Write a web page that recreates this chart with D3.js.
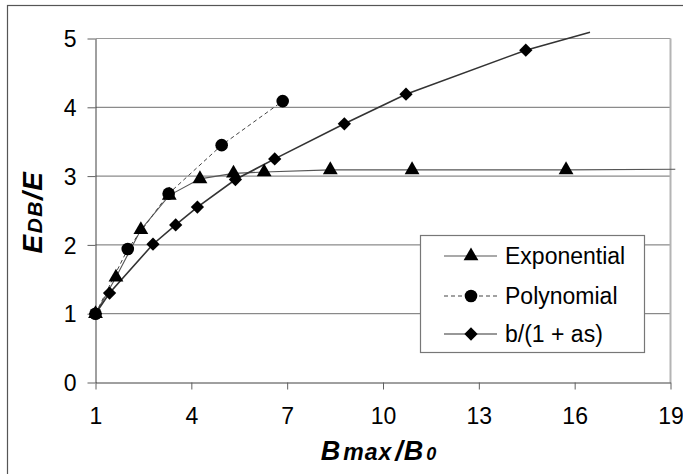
<!DOCTYPE html>
<html>
<head>
<meta charset="utf-8">
<script src="https://cdn.jsdelivr.net/npm/d3@7"></script>
<style>
  html, body { margin: 0; padding: 0; background: #fff; }
  svg { display: block; font-family: "Liberation Sans", Arial, sans-serif; }
</style>
</head>
<body>
<svg id="chart" width="683" height="474"></svg>
<script>
// Ratio of maximum to initial value (x) against normalised energy (y)
const expX   = [1, 1.64, 2.42, 3.31, 4.27, 5.32, 6.28, 8.35, 10.91, 15.73];
const expY   = [1, 1.53, 2.22, 2.72, 2.96, 3.04, 3.06, 3.09, 3.09, 3.09];
const polyX  = [1, 2.01, 3.29, 4.95, 6.86];
const polyY  = [1, 1.94, 2.745, 3.45, 4.09];
const ratX   = [1, 1.44, 2.80, 3.51, 4.19, 5.38, 6.61, 8.79, 10.72, 14.47];
const ratY   = [1, 1.30, 2.01, 2.29, 2.55, 2.95, 3.25, 3.76, 4.19, 4.83];
// fitted curves run on past the last marker
const expEnd = [19.15, 3.10];
const ratEnd = [16.48, 5.09];

const xTicks = [1, 4, 7, 10, 13, 16, 19];
const yTicks = [0, 1, 2, 3, 4, 5];
const seriesNames = ["Exponential", "Polynomial", "b/(1 + as)"];

const svg = d3.select("#chart");
const x = d3.scaleLinear().domain([1, 19]).range([95.5, 670.5]);
const y = d3.scaleLinear().domain([0, 5]).range([382.5, 38.5]);

// outer frame (runs off the right and bottom edges)
svg.append("rect").attr("x", 7.5).attr("y", 5.5).attr("width", 700).attr("height", 500)
  .attr("fill", "none").attr("stroke", "#555").attr("stroke-width", 1.2);

// horizontal gridlines
svg.append("g").selectAll("line").data(yTicks.filter(d => d > 0)).join("line")
  .attr("x1", x(1)).attr("x2", x(19))
  .attr("y1", d => y(d)).attr("y2", d => y(d))
  .attr("stroke", d => d === 5 ? "#9a9a9a" : "#6e6e6e").attr("stroke-width", 1);

// right border of plot area
svg.append("line").attr("x1", x(19)).attr("x2", x(19)).attr("y1", y(5)).attr("y2", y(0))
  .attr("stroke", "#b4b4b4").attr("stroke-width", 2);

// axes
const xAxis = d3.axisBottom(x).tickValues(xTicks).tickFormat(d3.format("d"))
  .tickSize(7).tickSizeOuter(0).tickPadding(18);
const yAxis = d3.axisLeft(y).tickValues(yTicks).tickFormat(d3.format("d"))
  .tickSize(8).tickSizeOuter(0).tickPadding(11);
const gx = svg.append("g").attr("transform", `translate(0,${y(0)})`).call(xAxis);
const gy = svg.append("g").attr("transform", `translate(${x(1)},0)`).call(yAxis);
[gx, gy].forEach(g => {
  g.select(".domain").attr("stroke", "#404040");
  g.selectAll(".tick line").attr("stroke", "#606060");
  g.selectAll(".tick text").attr("fill", "#000").style("font-size", "23px")
    .style("font-family", "'Liberation Sans', Arial, sans-serif");
});
gy.selectAll(".tick text").attr("dy", "0.36em");

const line = d3.line().x(d => x(d[0])).y(d => y(d[1]));
const zip = (a, b) => a.map((v, i) => [v, b[i]]);

const expPts = zip(expX, expY);
const polyPts = zip(polyX, polyY);
const ratPts = zip(ratX, ratY);

// curves
svg.append("path").attr("d", line(expPts.concat([expEnd])))
  .attr("fill", "none").attr("stroke", "#555").attr("stroke-width", 1.1);
svg.append("path").attr("d", line(polyPts))
  .attr("fill", "none").attr("stroke", "#444").attr("stroke-width", 1).attr("stroke-dasharray", "4,3");
svg.append("path").attr("d", line(ratPts.concat([ratEnd])))
  .attr("fill", "none").attr("stroke", "#333").attr("stroke-width", 1.6);

// markers
const tri = d3.symbol().type(d3.symbolTriangle).size(95)();
const circ = d3.symbol().type(d3.symbolCircle).size(125)();
const dia = d3.symbol().type(d3.symbolSquare).size(88)();

svg.append("g").selectAll("path").data(ratPts).join("path")
  .attr("d", dia).attr("fill", "#000")
  .attr("transform", d => `translate(${x(d[0])},${y(d[1])}) rotate(45)`);
svg.append("g").selectAll("path").data(polyPts).join("path")
  .attr("d", circ).attr("fill", "#000")
  .attr("transform", d => `translate(${x(d[0])},${y(d[1])})`);
svg.append("g").selectAll("path").data(expPts).join("path")
  .attr("d", tri).attr("fill", "#000")
  .attr("transform", d => `translate(${x(d[0])},${y(d[1])})`);

// legend
const lg = svg.append("g");
lg.append("rect").attr("x", 420.5).attr("y", 235.5).attr("width", 224).attr("height", 117)
  .attr("fill", "#fff").attr("stroke", "#777").attr("stroke-width", 1.2);
const rows = [
  { name: seriesNames[0], cy: 256, mark: tri, rot: 0, dash: null, stroke: "#555" },
  { name: seriesNames[1], cy: 296, mark: circ, rot: 0, dash: "4,3", stroke: "#444" },
  { name: seriesNames[2], cy: 334, mark: dia, rot: 45, dash: null, stroke: "#333" }
];
rows.forEach(r => {
  lg.append("line").attr("x1", 444).attr("x2", 497).attr("y1", r.cy).attr("y2", r.cy)
    .attr("stroke", r.stroke).attr("stroke-width", 1.1).attr("stroke-dasharray", r.dash);
  lg.append("path").attr("d", r.mark).attr("fill", "#000")
    .attr("transform", `translate(471,${r.cy}) rotate(${r.rot})`);
  lg.append("text").attr("x", 505).attr("y", r.cy).attr("dy", "0.36em")
    .style("font-size", "23px").attr("fill", "#000").text(r.name);
});

// axis titles
const xt = svg.append("text").attr("x", 379).attr("y", 460).attr("text-anchor", "middle")
  .style("font-weight", "bold").style("font-style", "italic").style("letter-spacing", "1px");
xt.append("tspan").style("font-size", "27px").text("B");
xt.append("tspan").style("font-size", "23px").attr("dx", 2).text("max");
xt.append("tspan").style("font-size", "27px").attr("dx", 3).text("/B");
xt.append("tspan").style("font-size", "18px").attr("dx", 2).text("0");

const yt = svg.append("text").attr("transform", "translate(42,212) rotate(-90)")
  .attr("text-anchor", "middle")
  .style("font-weight", "bold").style("font-style", "italic").style("letter-spacing", "1.5px");
yt.append("tspan").style("font-size", "28px").text("E");
yt.append("tspan").style("font-size", "21px").text("DB");
yt.append("tspan").style("font-size", "28px").text("/E");
</script>
</body>
</html>
